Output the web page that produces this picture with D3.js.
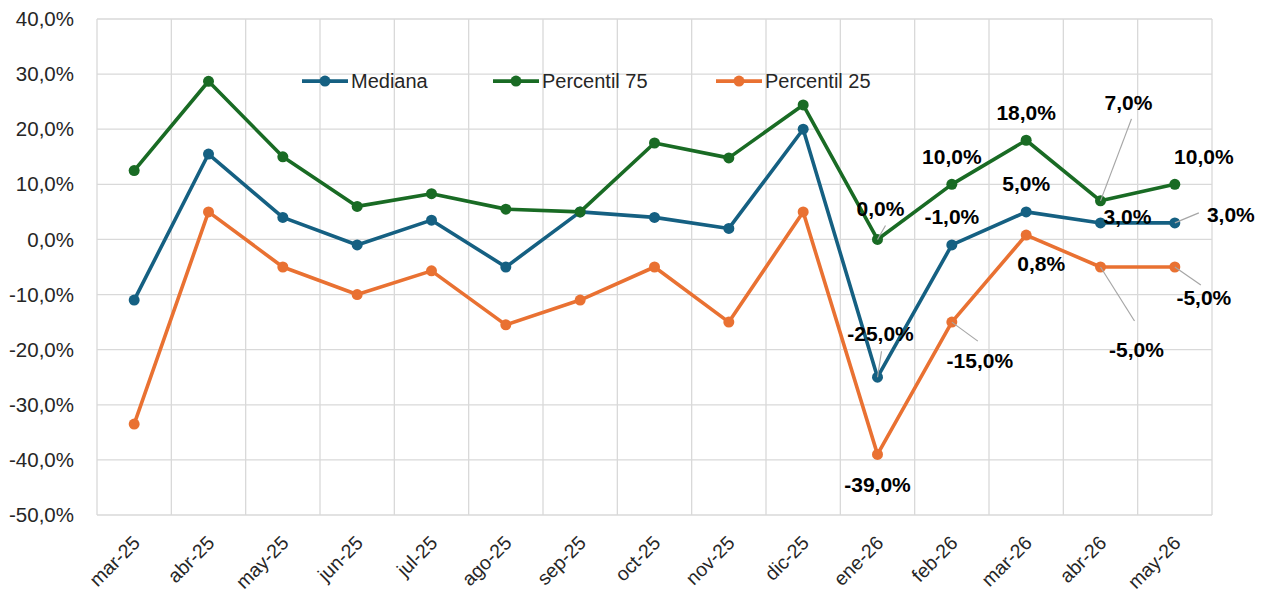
<!DOCTYPE html>
<html>
<head>
<meta charset="utf-8">
<script src="https://cdn.jsdelivr.net/npm/d3@7"></script>
<style>
  body { margin: 0; background: #fff; }
  svg text { font-family: "Liberation Sans", Arial, sans-serif; }
</style>
</head>
<body>
<div id="chart"></div>
<script>
// categories and series
var months = ["mar-25", "abr-25", "may-25", "jun-25", "jul-25", "ago-25", "sep-25", "oct-25",
              "nov-25", "dic-25", "ene-26", "feb-26", "mar-26", "abr-26", "may-26"];
var mediana = [-11, 15.5, 4, -1, 3.5, -5, 5, 4, 2, 20, -25, -1, 5, 3, 3];
var p75 = [12.5, 28.7, 15, 6, 8.3, 5.5, 5, 17.5, 14.8, 24.4, 0, 10, 18, 7, 10];
var p25 = [-33.5, 5, -5, -10, -5.7, -15.5, -11, -5, -15, 5, -39, -15, 0.8, -5, -5];
var yTicks = [40, 30, 20, 10, 0, -10, -20, -30, -40, -50];

// label placement for the last five months (offsets from point, optional leader end)
var labelLayout = {
  p75:     [{dx: 3, dy: -31, lead: [8, -14]}, {dx: 0, dy: -28}, {dx: 0, dy: -28},
            {dx: 28, dy: -98, lead: [31, -82]}, {dx: 29, dy: -28}],
  mediana: [{dx: 3, dy: -44, lead: [4, -26]}, {dx: 0, dy: -28}, {dx: 0, dy: -28},
            {dx: 27, dy: -6}, {dx: 56, dy: -8, lead: [24, -10]}],
  p25:     [{dx: 0, dy: 30}, {dx: 28, dy: 38, lead: [26, 19]}, {dx: 15, dy: 28},
            {dx: 36, dy: 82, lead: [34, 54]}, {dx: 29, dy: 30, lead: [26, 18]}]
};

var margin = {top: 19, right: 56, bottom: 79, left: 97},
    width = 1268 - margin.left - margin.right,
    height = 594 - margin.top - margin.bottom;

var x = d3.scaleBand().domain(months).range([0, width]);
var y = d3.scaleLinear().domain([-50, 40]).range([height, 0]);

var fmt = function(v) { return d3.format(".1f")(v).replace(".", ",").replace("−", "-") + "%"; };

var svg = d3.select("#chart").append("svg")
    .attr("width", 1268).attr("height", 594)
  .append("g")
    .attr("transform", "translate(" + margin.left + "," + margin.top + ")");

// gridlines
svg.append("g").selectAll("line").data(yTicks).enter().append("line")
    .attr("x1", 0).attr("x2", width)
    .attr("y1", function(d) { return y(d); }).attr("y2", function(d) { return y(d); })
    .attr("stroke", "#d9d9d9").attr("stroke-width", 1.3);
svg.append("g").selectAll("line").data(months.concat(["end"])).enter().append("line")
    .attr("x1", function(d, i) { return i * x.step(); })
    .attr("x2", function(d, i) { return i * x.step(); })
    .attr("y1", 0).attr("y2", height)
    .attr("stroke", "#d9d9d9").attr("stroke-width", 1.3);

// y axis
svg.append("g")
    .call(d3.axisLeft(y).tickValues(yTicks).tickSize(0).tickPadding(23).tickFormat(fmt))
    .call(function(g) { g.select(".domain").remove(); })
    .selectAll("text")
    .attr("font-size", "20.5px").attr("fill", "#262626")
    .attr("font-family", "Liberation Sans, Arial, sans-serif");

// x axis
svg.append("g")
    .attr("transform", "translate(0," + height + ")")
    .call(d3.axisBottom(x).tickSize(0))
    .call(function(g) { g.select(".domain").remove(); })
    .selectAll("text")
    .attr("font-size", "19.5px").attr("fill", "#262626")
    .attr("font-family", "Liberation Sans, Arial, sans-serif")
    .attr("text-anchor", "end")
    .attr("dy", 0)
    .attr("transform", "translate(5,27) rotate(-45)");

var series = [
  {name: "Mediana", key: "mediana", values: mediana, color: "#156082"},
  {name: "Percentil 75", key: "p75", values: p75, color: "#196B24"},
  {name: "Percentil 25", key: "p25", values: p25, color: "#E97132"}
];

var line = d3.line()
    .x(function(d, i) { return x(months[i]) + x.bandwidth() / 2; })
    .y(function(d) { return y(d); });

series.forEach(function(s) {
  svg.append("path")
      .datum(s.values)
      .attr("fill", "none")
      .attr("stroke", s.color)
      .attr("stroke-width", 3.6)
      .attr("stroke-linejoin", "round")
      .attr("d", line);
  svg.append("g").selectAll("circle").data(s.values).enter().append("circle")
      .attr("cx", function(d, i) { return x(months[i]) + x.bandwidth() / 2; })
      .attr("cy", function(d) { return y(d); })
      .attr("r", 5.5)
      .attr("fill", s.color);
});

// data labels
series.forEach(function(s) {
  var start = months.length - 5;
  labelLayout[s.key].forEach(function(l, j) {
    var i = start + j;
    var px = x(months[i]) + x.bandwidth() / 2, py = y(s.values[i]);
    if (l.lead) {
      svg.append("line")
          .attr("x1", px).attr("y1", py)
          .attr("x2", px + l.lead[0]).attr("y2", py + l.lead[1])
          .attr("stroke", "#a6a6a6").attr("stroke-width", 1.2);
    }
    svg.append("text")
        .attr("x", px + l.dx).attr("y", py + l.dy)
        .attr("text-anchor", "middle")
        .attr("dominant-baseline", "central")
        .attr("font-size", "21px").attr("font-weight", "bold")
        .attr("fill", "#000")
        .text(fmt(s.values[i]));
  });
});

// legend
var legendX = [205, 396, 619];
var legend = svg.append("g").attr("transform", "translate(0," + (y(30) + 7) + ")");
series.forEach(function(s, i) {
  var g = legend.append("g").attr("transform", "translate(" + legendX[i] + ",0)");
  g.append("line").attr("x1", 0).attr("x2", 46).attr("y1", 0).attr("y2", 0)
      .attr("stroke", s.color).attr("stroke-width", 3.6);
  g.append("circle").attr("cx", 23).attr("cy", 0).attr("r", 5.5).attr("fill", s.color);
  g.append("text").attr("x", 49).attr("y", 0)
      .attr("dominant-baseline", "central")
      .attr("font-family", "Inter, 'Open Sans', sans-serif")
      .attr("font-size", "20px").attr("fill", "#262626")
      .text(s.name);
});
</script>
</body>
</html>
